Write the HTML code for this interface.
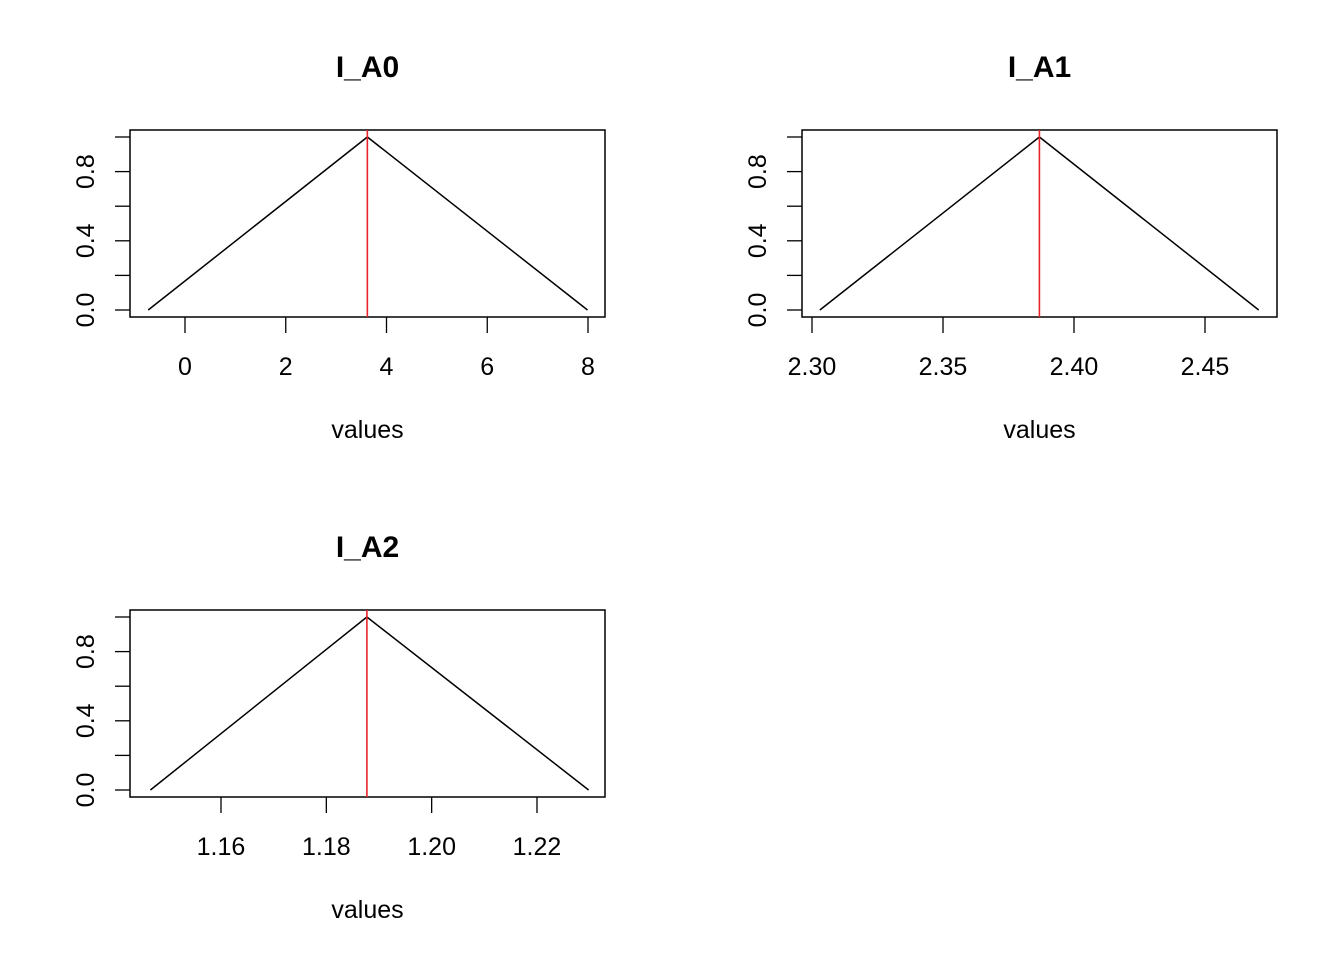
<!DOCTYPE html>
<html><head><meta charset="utf-8"><style>
body{margin:0;background:#fff}
svg{display:block;font-family:"Liberation Sans",Arial,sans-serif}
</style></head><body>
<svg id="chart" width="1344" height="960"></svg>
<script>
const titles=["I_A0","I_A1","I_A2"];
const xTicks=[[0,2,4,6,8],[2.30,2.35,2.40,2.45],[1.16,1.18,1.20,1.22]];
const xTickLabels=[["0","2","4","6","8"],["2.30","2.35","2.40","2.45"],["1.16","1.18","1.20","1.22"]];
const xMin=[-0.73,2.303,1.1466];
const xPeak=[3.62,2.3868,1.1877];
const xMax=[7.99,2.4705,1.2298];
const yVals=[0,1,0];
const yTicks=[0,0.2,0.4,0.6,0.8,1.0];
const yTickLabels=["0.0","","0.4","","0.8",""];
const xCal=[[0,185,8,588],[2.30,812,2.45,1205],[1.16,221,1.22,537]];
const panels=[{l:130,r:605,t:130,b:317,y0:310,y1:137},{l:802,r:1277,t:130,b:317,y0:310,y1:137},{l:130,r:605,t:610,b:797,y0:790,y1:617}];
const NS="http://www.w3.org/2000/svg";
const svg=document.getElementById('chart');
function mk(tag,attrs,parent){const e=document.createElementNS(NS,tag);for(const k in attrs)e.setAttribute(k,attrs[k]);(parent||svg).appendChild(e);return e;}
panels.forEach((p,i)=>{
  const c=xCal[i];
  const xs=v=>c[1]+(v-c[0])*(c[3]-c[1])/(c[2]-c[0]);
  const ys=v=>p.y0+(v-0)*(p.y1-p.y0);
  const g=mk('g',{});
  
  
  const t=mk('text',{x:(p.l+p.r)/2,y:p.t-53,'text-anchor':'middle','font-size':'30','font-weight':'bold'},g);
  t.textContent=titles[i];
  
  
  const box=mk('rect',{x:p.l,y:p.t,width:p.r-p.l,height:p.b-p.t,fill:'none',stroke:'#000','stroke-width':1.5},g);
  
  
  const ya=mk('g',{},g);
  
  
  yTicks.forEach((v,j)=>{
    mk('line',{x1:p.l-15,x2:p.l,y1:ys(v),y2:ys(v),stroke:'#000','stroke-width':1.3},ya);
    if(yTickLabels[j]){const tl=mk('text',{x:0,y:0,transform:`translate(${p.l-44},${ys(v)}) rotate(-90)`,'text-anchor':'middle','dominant-baseline':'central','font-size':'25'},ya);tl.textContent=yTickLabels[j];
      
      }
  });
  const xa=mk('g',{},g);
  
  
  const xt=xTicks[i];
  xt.forEach((v,j)=>{
    mk('line',{x1:xs(v),x2:xs(v),y1:p.b,y2:p.b+16,stroke:'#000','stroke-width':1.3},xa);
    const tl=mk('text',{x:xs(v),y:p.b+58,'text-anchor':'middle','font-size':'25'},xa);tl.textContent=xTickLabels[i][j];
    
    
  });
  const xl=mk('text',{x:(p.l+p.r)/2,y:p.b+121,'text-anchor':'middle','font-size':'25'},g);xl.textContent='values';
  
  
  const pts=[xMin[i],xPeak[i],xMax[i]].map((v,k)=>xs(v)+','+ys(yVals[k])).join(' ');
  const ln=mk('polyline',{points:pts,fill:'none',stroke:'#000','stroke-width':1.5},g);
  
  
  const rl=mk('line',{x1:xs(xPeak[i]),x2:xs(xPeak[i]),y1:p.t,y2:p.b,stroke:'#e8242a','stroke-width':1.6},g);
  
  
});
</script>
</body></html>
